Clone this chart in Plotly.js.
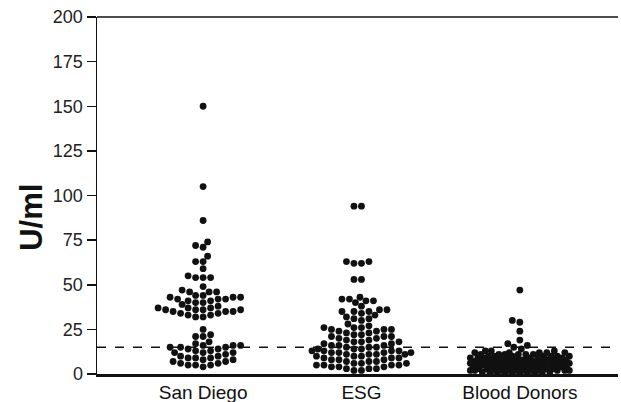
<!DOCTYPE html>
<html>
<head>
<meta charset="utf-8">
<script src="https://cdn.plot.ly/plotly-3.0.1.min.js"></script>
<style>html,body{margin:0;padding:0;background:#fff;}#chart{width:621px;height:402px;}</style>
</head>
<body>
<div id="chart"></div>
<script>
// ---- data (U/ml) ----
const categories = ["San Diego", "ESG", "Blood Donors"];
const sanDiego = [150, 105, 86, 74, 72, 71, 66, 63, 63, 59, 55, 54, 54, 54, 49, 47, 46, 46, 46, 44, 44, 43, 43, 43, 42, 42, 42, 41, 41, 40, 40, 39, 38, 37, 37, 37, 36, 36, 36, 36, 35, 35, 35, 34, 34, 33, 33, 32, 32, 25, 22, 21, 21, 18, 17, 16, 16, 16, 15, 15, 15, 14, 14, 13, 13, 12, 12, 12, 11, 10, 10, 9, 9, 9, 8, 8, 7, 7, 6, 6, 5, 5, 5, 4];
const esg = [94, 94, 63, 63, 62, 62, 53, 53, 43, 42, 42, 41, 41, 40, 38, 36, 36, 35, 35, 35, 34, 33, 32, 31, 31, 30, 28, 27, 26, 26, 26, 25, 25, 25, 24, 24, 23, 23, 22, 22, 21, 21, 21, 20, 20, 19, 19, 18, 18, 18, 17, 17, 16, 16, 16, 15, 15, 15, 14, 14, 14, 13, 13, 13, 13, 12, 12, 12, 12, 11, 11, 11, 11, 10, 10, 10, 9, 9, 9, 8, 8, 8, 7, 7, 7, 6, 6, 6, 5, 5, 5, 5, 4, 4, 4, 3, 3, 3, 2, 2];
const bloodDonors = [47, 30, 29, 24, 19, 17, 16, 15, 14, 13, 13, 13, 12, 12, 12, 12, 12, 11, 11, 11, 11, 11, 11, 10, 10, 10, 10, 10, 10, 10, 9, 9, 9, 9, 9, 9, 9, 9, 8, 8, 8, 8, 8, 8, 8, 8, 7, 7, 7, 7, 7, 7, 7, 7, 7, 6, 6, 6, 6, 6, 6, 6, 6, 6, 6, 5, 5, 5, 5, 5, 5, 5, 5, 5, 5, 4, 4, 4, 4, 4, 4, 4, 4, 4, 4, 4, 3, 3, 3, 3, 3, 3, 3, 3, 3, 3, 3, 3, 2, 2, 2, 2, 2, 2, 2, 2, 2, 2, 2, 2, 1, 1, 1, 1, 1, 1, 1, 1, 1, 1];
const cutoff = 15;
const yTicks = [0, 25, 50, 75, 100, 125, 150, 175, 200];
const yTitle = "U/ml";

// ---- layout geometry ----
const W = 621, H = 402;
const margin = {l: 97, r: 3, t: 17, b: 28, pad: 0};
const xRange = [0.33, 3.62];
const yRange = [0, 200];
const plotW = W - margin.l - margin.r;
const plotH = H - margin.t - margin.b;
const pxPerX = plotW / (xRange[1] - xRange[0]);
const pxPerY = plotH / (yRange[1] - yRange[0]);
const dotSize = 6.8;

// deterministic beeswarm: offsets computed from the values
function swarm(values, center, halfWidthPx) {
  const sorted = values.slice().sort((a, b) => a - b);
  const placed = [];
  const xs = [], ys = [];
  const step = 1.5;
  const maxK = Math.floor(halfWidthPx / step);
  sorted.forEach(v => {
    const py = v * pxPerY;
    let best = null, bestD = -1;
    for (let i = 0; i <= 2 * maxK; i++) {
      const k = (i % 2 === 0 ? 1 : -1) * Math.ceil(i / 2);
      const px = k * step;
      let minD = Infinity;
      for (const p of placed) {
        const d = Math.hypot(p[0] - px, p[1] - py);
        if (d < minD) minD = d;
      }
      if (minD >= dotSize * 0.98) { best = px; bestD = minD; break; }
      if (minD > bestD) { bestD = minD; best = px; }
    }
    placed.push([best, py]);
    xs.push(center + best / pxPerX);
    ys.push(v);
  });
  return {x: xs, y: ys};
}

const groups = [sanDiego, esg, bloodDonors];
const traces = groups.map((g, i) => {
  const s = swarm(g, i + 1, 50);
  return {
    type: 'scatter', mode: 'markers', x: s.x, y: s.y,
    marker: {color: '#111', size: dotSize, line: {width: 0}},
    hoverinfo: 'y', showlegend: false, cliponaxis: false
  };
});

const font = "Liberation Sans, Arial, sans-serif";
const layout = {
  width: W, height: H, margin: margin,
  paper_bgcolor: '#fff', plot_bgcolor: '#fff',
  showlegend: false,
  xaxis: {
    range: xRange, tickmode: 'array', tickvals: [1, 2, 3], ticktext: categories,
    showgrid: false, zeroline: false, showline: true, mirror: false,
    linecolor: '#111', linewidth: 2.5, ticks: '', ticklen: 0,
    tickfont: {family: font, size: 19, color: '#111'}, fixedrange: true
  },
  yaxis: {
    range: yRange, tickmode: 'array', tickvals: yTicks,
    showgrid: false, zeroline: false, showline: true, mirror: false,
    linecolor: '#111', linewidth: 1.5, ticks: 'outside', ticklen: 9, tickwidth: 1.5, tickcolor: '#111',
    tickfont: {family: font, size: 18, color: '#222'},
    fixedrange: true
  },
  annotations: [{
    text: '<b>' + yTitle + '</b>', xref: 'paper', yref: 'paper',
    x: -0.125, y: 0.44, xanchor: 'center', yanchor: 'middle', textangle: -90,
    showarrow: false, font: {family: font, size: 31, color: '#111'}
  }],
  shapes: [{
    type: 'line', xref: 'paper', yref: 'y', x0: 0, x1: 1, y0: cutoff, y1: cutoff,
    line: {color: '#111', width: 1.5, dash: 'dash'}
  }, {
    type: 'line', xref: 'paper', yref: 'paper', x0: 0, x1: 1, y0: 1, y1: 1,
    line: {color: '#111', width: 1.5}
  }]
};

Plotly.newPlot('chart', traces, layout, {displayModeBar: false, staticPlot: true});
</script>
</body>
</html>
